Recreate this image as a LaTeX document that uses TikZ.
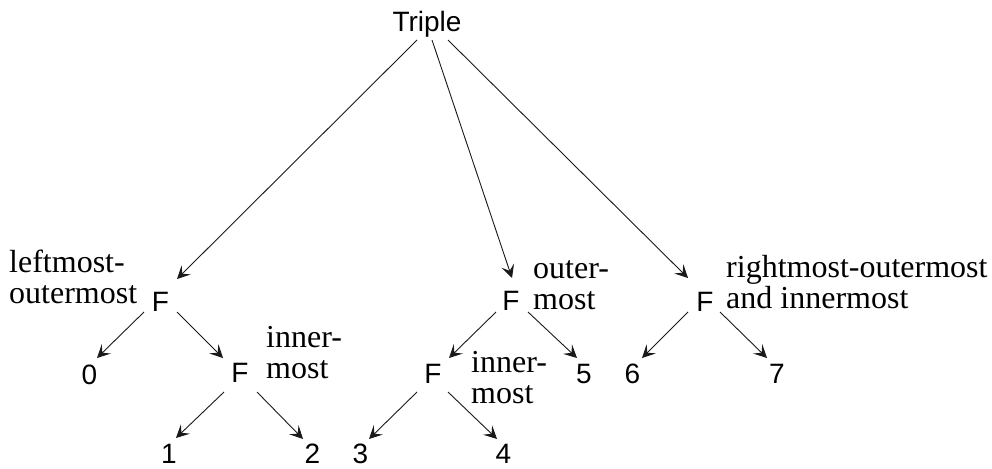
\documentclass[tikz,border=0pt]{standalone}
\usepackage{fontspec}
\setmainfont{Liberation Serif}
\setsansfont{Liberation Sans}
\usetikzlibrary{calc,arrows.meta}
\begin{document}
\begin{tikzpicture}[x=1pt,y=-1pt,
  sf/.style={font=\sffamily\fontsize{28}{30}\selectfont, inner sep=0pt, anchor=base},
  lbl/.style={font=\rmfamily\fontsize{32}{31}\selectfont, inner sep=0pt, anchor=base west},
  arr/.style={-{Stealth[length=13pt,width=13pt,inset=5.5pt]}, line width=0.9pt, draw=black!90}]
\useasboundingbox (0,0) rectangle (992,468);
% tree nodes
\node[sf] (T)  at (427,32)   {Triple};
\node[sf] (F1) at (160.5,311) {F};
\node[sf] (F2) at (240,382)  {F};
\node[sf] (F3) at (511,310)  {F};
\node[sf] (F4) at (433,383)  {F};
\node[sf] (F5) at (705,311)  {F};
\node[sf] (n0) at (89.5,384) {0};
\node[sf] (n1) at (169,463)  {1};
\node[sf] (n2) at (312.5,463) {2};
\node[sf] (n3) at (360.5,463) {3};
\node[sf] (n4) at (503.5,463) {4};
\node[sf] (n5) at (584,383)  {5};
\node[sf] (n6) at (632.5,383) {6};
\node[sf] (n7) at (777,383)  {7};
% labels
\node[lbl] (lo) at (9,272)   {\begin{tabular}[t]{@{}l@{}}leftmost-\\outermost\end{tabular}};
\node[lbl] (i1) at (266,347) {\begin{tabular}[t]{@{}l@{}}inner-\\most\end{tabular}};
\node[lbl] (om) at (533,278) {\begin{tabular}[t]{@{}l@{}}outer-\\most\end{tabular}};
\node[lbl] (i2) at (471,372) {\begin{tabular}[t]{@{}l@{}}inner-\\most\end{tabular}};
\node[lbl] (ro) at (726,277) {\begin{tabular}[t]{@{}l@{}}rightmost-outermost\\and innermost\end{tabular}};
% connectors
\draw[arr] ($(T.base)+(-10,8)$) -- ($(F1.base)+(16.5,-32)$);
\draw[arr] ($(T.base)+(5,8)$)   -- ($(F3.base)+(1,-32)$);
\draw[arr] ($(T.base)+(21,8)$)  -- ($(F5.base)+(-17,-33)$);
\draw[arr] ($(F1.base)+(-16.5,1)$) -- ($(n0.base)+(7.5,-26)$);
\draw[arr] ($(F1.base)+(16.5,1)$)  -- ($(F2.base)+(-17,-24)$);
\draw[arr] ($(F2.base)+(-16,10)$)  -- ($(n1.base)+(7,-25)$);
\draw[arr] ($(F2.base)+(17,10)$)   -- ($(n2.base)+(-9.5,-24)$);
\draw[arr] ($(F3.base)+(-15,2)$)   -- ($(F4.base)+(16,-25)$);
\draw[arr] ($(F3.base)+(17,2)$)    -- ($(n5.base)+(-7,-25)$);
\draw[arr] ($(F4.base)+(-16,9)$)   -- ($(n3.base)+(8.5,-24)$);
\draw[arr] ($(F4.base)+(15,9)$)    -- ($(n4.base)+(-6.5,-24)$);
\draw[arr] ($(F5.base)+(-17,1)$)   -- ($(n6.base)+(9.5,-25)$);
\draw[arr] ($(F5.base)+(15,1)$)    -- ($(n7.base)+(-10,-25)$);
\end{tikzpicture}
\end{document}
